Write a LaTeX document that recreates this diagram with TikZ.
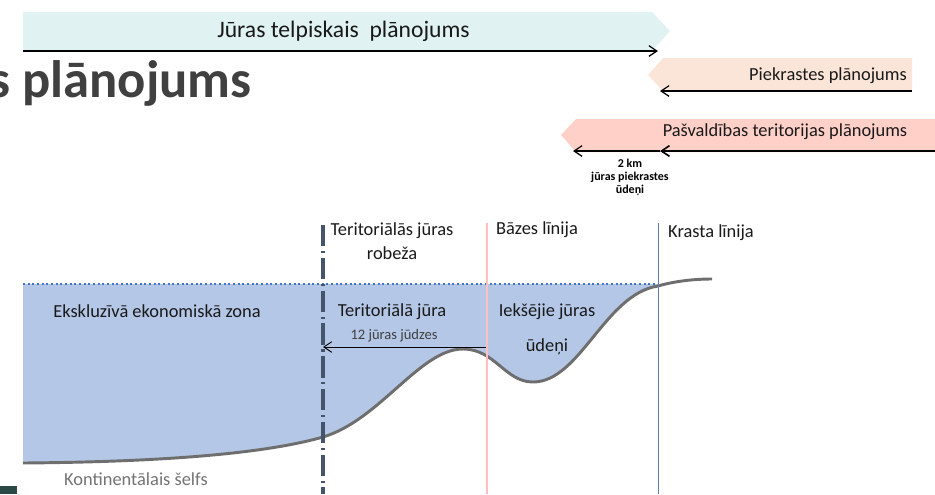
\documentclass[tikz,border=0pt]{standalone}
\usepackage{fontspec}
\setmainfont{Carlito}
\usetikzlibrary{positioning}
\usetikzlibrary{arrows.meta}
\definecolor{seablue}{HTML}{B4C7E7}
\definecolor{waterline}{HTML}{4472C4}
\definecolor{seabedgrey}{HTML}{6E6E6E}
\definecolor{slateline}{HTML}{44546A}
\definecolor{titlegrey}{HTML}{404040}
\definecolor{seabanner}{HTML}{E0F2F2}
\definecolor{coastbanner}{HTML}{FBE5D8}
\definecolor{munibanner}{HTML}{FFD0C8}
\definecolor{cornerbox}{HTML}{2B4A45}
\tikzstyle{banner}=[inner sep=0pt,font=\fontsize{13.8}{13.8}\selectfont,text=black!90]
\tikzstyle{smalllabel}=[inner sep=0pt,font=\fontsize{13.8}{13.8}\selectfont,text=black!90]
\tikzstyle{spanarrow} = [draw,line width=0.9pt,-{Straight Barb[length=6pt,width=8pt]}]
\tikzstyle{borderline} = [draw]
\begin{document}
\begin{tikzpicture}[x=0.75pt,y=-0.75pt]
    \useasboundingbox (0,0) rectangle (935,494);
    % First we draw the banners
    \fill[seabanner] (23,12) -- (652,12) -- (670,31) -- (653,50) -- (23,50) -- cycle;
    \fill[coastbanner] (912,58) -- (663,58) -- (648,75) -- (663,91) -- (912,91) -- cycle;
    \fill[munibanner] (935,119) -- (576,119) -- (561,135) -- (576,152) -- (935,152) -- cycle;
    \fill[cornerbox] (0,486) rectangle (17,494);

    % Then the sea, cut off at the water line
    \begin{scope}
      \clip (23,284) rectangle (712,494);
      \fill[seablue] (23,463) .. controls (150,462) and (260,455) .. (323,437) .. controls (380,420) and (420,349) .. (463,349) .. controls (495,349) and (505,382) .. (533,382) .. controls (580,382) and (605,294) .. (658,286) .. controls (675,281) and (695,279) .. (712,279) -- (23,279) -- cycle;
    \end{scope}
    \draw[waterline,line width=1.5pt,dotted] (23,284) -- (658,284);
    \draw[seabedgrey,line width=2.2pt] (23,463) .. controls (150,462) and (260,455) .. (323,437) .. controls (380,420) and (420,349) .. (463,349) .. controls (495,349) and (505,382) .. (533,382) .. controls (580,382) and (605,294) .. (658,286) .. controls (675,281) and (695,279) .. (712,279);

    % End points of the lines
    \foreach \pos/\name in {{(23,51)/seaL}, {(658,51)/seaR}, {(912,91)/coastR}, {(660,91)/coastL}, {(935,151)/muniR}, {(660,151)/muniM}, {(573,151)/muniL}, {(487,347)/twelveR}, {(323,347)/twelveL}, {(323,225)/limitT}, {(323,494)/limitB}, {(487,223)/baseT}, {(487,494)/baseB}, {(658,223)/shoreT}, {(658,494)/shoreB}}
        \node[coordinate] (\name) at \pos {};

    % Connect them
    \foreach \source/\dest in {seaL/seaR, coastR/coastL, muniM/muniL}
        \path[spanarrow] (\source) -- (\dest);
    \path[spanarrow,line width=0.7pt] (twelveR) -- (twelveL);
    \path[spanarrow,line width=1.2pt] (muniR) -- (muniM);
    \path[borderline,slateline,line width=2.4pt,dash pattern=on 16pt off 3.5pt on 1.6pt off 3.5pt] (limitT) -- (limitB);
    \path[borderline,red!25,line width=1.6pt] (baseT) -- (baseB);
    \path[borderline,waterline!80!black!80,line width=0.6pt] (shoreT) -- (shoreB);

    % Labels
    \node[banner,font=\fontsize{17.7}{17.7}\selectfont] (seaplan) at (343.5,31) {Jūras telpiskais\ \ plānojums};
    \foreach \pos/\name/\label in {{(828,76)/coastplan/Piekrastes plānojums}, {(785,131.5)/muniplan/Pašvaldības teritorijas plānojums}}
        \node[banner] (\name) at \pos {\label};
    \foreach \pos/\name/\label in {{(392,231)/limittop/Teritoriālās jūras}, {(392,253)/limitbot/robeža}, {(537,230)/baselabel/Bāzes līnija}, {(711,233)/shorelabel/Krasta līnija}, {(157,311)/eez/Ekskluzīvā ekonomiskā zona}, {(392,311.5)/terrsea/Teritoriālā jūra}, {(547,311.5)/innertop/Iekšējie jūras}, {(547,347)/innerbot/ūdeņi}}
        \node[smalllabel] (\name) at \pos {\label};
    \node[inner sep=0pt,font=\fontsize{10.9}{10.9}\selectfont,text=black!75] (twelve) at (394,335.5) {12 jūras jūdzes};
    \node[smalllabel,text=black!55] (shelf) at (136,479.5) {Kontinentālais šelfs};
    \foreach \pos/\name/\label in {{(630,163)/kmA/2 km}, {(630,177)/kmB/jūras piekrastes}, {(630,190)/kmC/ūdeņi}}
        \node[inner sep=0pt,font=\bfseries\fontsize{9}{9}\selectfont] (\name) at \pos {\label};
    \node[anchor=east,inner sep=0pt,text=titlegrey,font=\bfseries\fontsize{39.5}{39.5}\selectfont] (title) at (252,83) {s plānojums};
\end{tikzpicture}
\end{document}
